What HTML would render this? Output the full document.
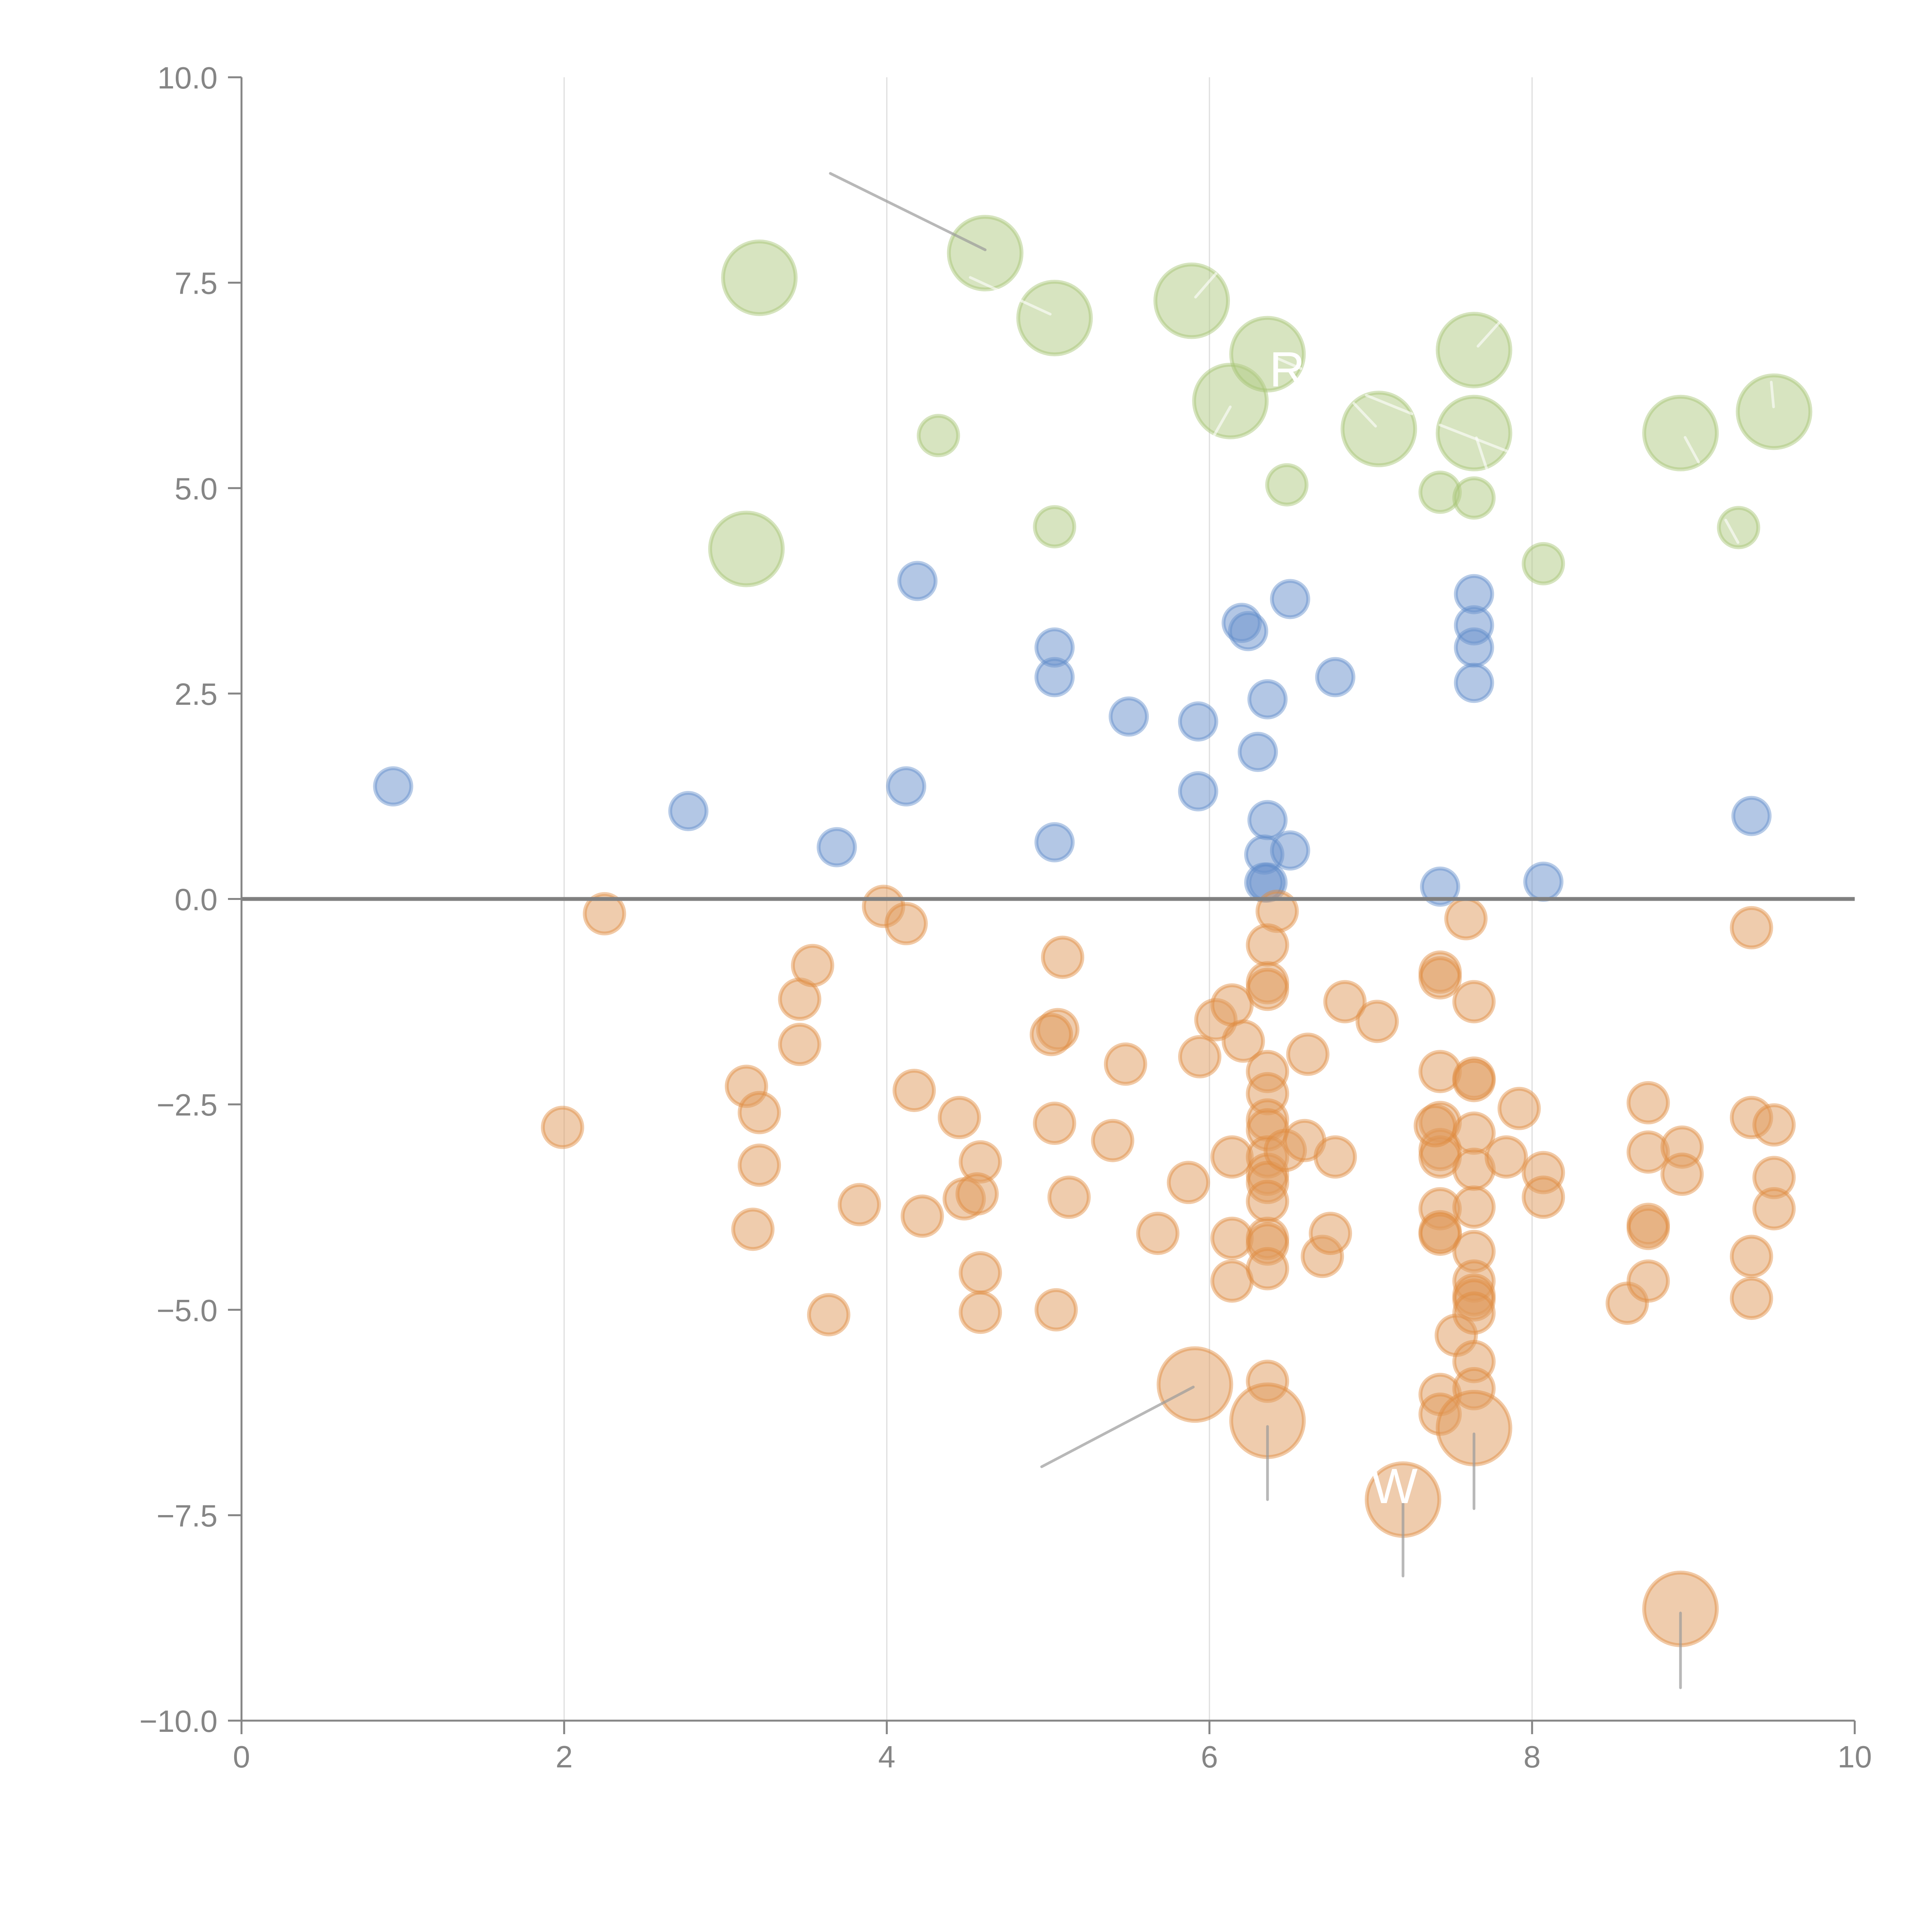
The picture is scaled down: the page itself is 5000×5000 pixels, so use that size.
<!DOCTYPE html>
<html><head><meta charset="utf-8">
<style>
html,body{margin:0;padding:0;background:#fff;}
svg{display:block;font-family:"Liberation Sans",Arial,sans-serif;}
</style></head>
<body>
<svg id="chart" width="5000" height="5000" viewBox="0 0 5000 5000" xmlns="http://www.w3.org/2000/svg">
<rect width="5000" height="5000" fill="#fff"/>
<g id="grid"></g>
<g id="marks"></g>
<g id="annot"></g>
<g id="axes"></g>
</svg>
<script>
const xTicks=[0,2,4,6,8,10];
const yTicks=[10,7.5,5,2.5,0,-2.5,-5,-7.5,-10];
const yTickLabels=["10.0","7.5","5.0","2.5","0.0","\u22122.5","\u22125.0","\u22127.5","\u221210.0"];
const blueX=[0.94,2.77,3.69,4.12,4.19,5.04,5.04,5.04,5.50,5.93,5.93,6.20,6.24,6.30,6.36,6.36,6.34,6.50,6.36,6.34,6.50,6.78,7.43,7.64,7.64,7.64,7.64,8.07,9.36];
const blueY=[1.37,1.07,0.63,1.37,3.87,3.06,2.70,0.69,2.22,2.16,1.31,3.36,3.26,1.79,2.43,0.96,0.54,0.59,0.20,0.20,3.65,2.70,0.15,3.71,3.33,3.06,2.63,0.21,1.01];
const greenX=[3.21,3.13,4.32,4.61,5.04,5.04,5.89,6.13,6.36,6.48,7.05,7.43,7.64,7.64,7.64,8.07,8.92,9.28,9.50];
const greenY=[7.56,4.26,5.64,7.86,7.07,4.53,7.28,6.06,6.63,5.04,5.72,4.95,6.68,5.67,4.88,4.08,5.67,4.52,5.93];
const greenBig=[1,1,0,1,1,0,1,1,1,0,1,0,1,1,0,0,1,0,1];
const orangeX=[
2.25,1.99,3.13,3.21,3.21,3.17,3.46,3.46,3.54,3.64,
3.83,3.98,4.12,4.17,4.22,4.45,4.48,4.58,4.56,4.58,
4.58,5.09,5.06,5.02,5.04,5.13,5.05,5.40,5.48,5.68,
5.87,5.94,6.04,6.14,6.21,6.14,6.14,6.14,6.42,6.36,
6.36,6.36,6.36,6.36,6.36,6.36,6.36,6.36,6.36,6.36,
6.36,6.36,6.36,6.36,
6.47,6.59,6.61,6.70,6.75,6.78,6.84,7.04,
7.43,7.43,7.43,7.43,7.43,7.43,7.43,7.43,7.43,7.43,7.43,7.40,
7.53,7.59,
7.64,7.64,7.64,7.64,7.64,7.64,7.64,7.64,7.64,7.64,7.64,7.64,7.64,
7.84,7.92,8.07,8.07,8.59,
8.72,8.72,8.72,8.72,8.72,
8.93,8.93,
9.36,9.36,9.36,9.36,
9.50,9.50,9.50];
const orangeY=[
-0.18,-2.78,-2.28,-2.60,-3.24,-4.02,-1.22,-1.77,-0.81,-5.06,
-3.72,-0.09,-0.30,-2.33,-3.86,-2.66,-3.65,-3.20,-3.59,-4.55,
-5.03,-0.71,-1.59,-1.65,-2.73,-3.63,-5.00,-2.94,-2.01,-4.07,
-3.45,-1.92,-1.47,-1.29,-1.73,-3.14,-4.13,-4.65,-0.15,-0.56,
-1.02,-1.10,-2.10,-2.37,-2.69,-2.81,-3.14,-3.35,-3.45,-3.68,
-4.13,-4.20,-4.50,-5.87,
-3.06,-2.94,-1.89,-4.35,-4.07,-3.14,-1.25,-1.49,
-0.89,-0.96,-2.10,-2.72,-3.05,-3.14,-3.77,-4.05,-4.08,-6.03,-6.27,-2.76,
-5.31,-0.24,
-1.25,-2.18,-2.21,-2.85,-3.29,-3.75,-4.29,-4.65,-4.82,-4.88,-5.04,-5.63,-5.96,
-3.14,-2.55,-3.33,-3.63,-4.92,
-2.48,-3.08,-3.96,-4.01,-4.65,
-3.02,-3.35,
-0.35,-2.66,-4.35,-4.86,
-2.75,-3.39,-3.77];
const orangeBigX=[5.91,6.36,7.20,7.64,8.92];
const orangeBigY=[-5.91,-6.35,-7.31,-6.44,-8.64];

const X0=625,X1=4800,Y0=200,Y1=4453;
function sx(v){return X0+(v-0)/(10-0)*(X1-X0);}
function sy(v){return Y0+(10-v)/20*(Y1-Y0);}
const NS="http://www.w3.org/2000/svg";
function mk(tag,attrs,parent){const e=document.createElementNS(NS,tag);for(const k in attrs)e.setAttribute(k,attrs[k]);parent.appendChild(e);return e;}
const grid=document.getElementById('grid'),marks=document.getElementById('marks'),annot=document.getElementById('annot'),axes=document.getElementById('axes');

xTicks.forEach(function(t){
  if(t===0||t===10)return;
  const l=mk('line',{x1:sx(t),x2:sx(t),y1:Y0,y2:Y1,stroke:'#dedede','stroke-width':3},grid);
  
  
});

function drawSeries(xs,ys,big,fill,stroke,name,rs,rb){
  xs.forEach(function(x,i){
    const c=mk('circle',{cx:sx(x),cy:sy(ys[i]),r:(big&&big[i])?rb:rs,fill:fill,'fill-opacity':0.5,stroke:stroke,'stroke-opacity':0.45,'stroke-width':10},marks);
    
    
  });
}
drawSeries(greenX,greenY,greenBig,'#afca82','#a5c472','green',51,94);
drawSeries(blueX,blueY,null,'#6890cb','#5f8bc9','blue',47,47);
drawSeries(orangeX,orangeY,null,'#e09a5c','#e08a3c','orange',51,51);
drawSeries(orangeBigX,orangeBigY,[1,1,1,1,1],'#e09a5c','#e08a3c','orange-large',51,94);

const leadFrom=[[3.65,8.83],[4.96,-6.91],[6.36,-6.42],[7.20,-7.36],[7.64,-6.51],[8.92,-8.69]];
const leadTo=[[4.61,7.90],[5.90,-5.94],[6.36,-7.31],[7.20,-8.24],[7.64,-7.42],[8.92,-9.60]];
leadFrom.forEach(function(p,i){
  const l=mk('line',{x1:sx(p[0]),y1:sy(p[1]),x2:sx(leadTo[i][0]),y2:sy(leadTo[i][1]),stroke:'#9a9a9a','stroke-opacity':0.7,'stroke-width':7,'stroke-linecap':'round'},annot);
  
  
});
const wl=[[3094,769,3147,708],[3300,925,3367,954],[3184,1053,3143,1125],[3560,1103,3504,1044],[3536,1023,3654,1071],[3825,896,3880,835],[3727,1100,3899,1167],[3821,1133,3847,1212],[4361,1132,4396,1196],[4584,989,4590,1053],[4466,1346,4498,1404],[2511,718,2718,813]];
wl.forEach(function(a){
  const l=mk('line',{x1:a[0],y1:a[1],x2:a[2],y2:a[3],stroke:'#fff','stroke-opacity':0.6,'stroke-width':7,'stroke-linecap':'round'},annot);
  
  
});
const t1=mk('text',{x:3285,y:1000,fill:'#fff','font-size':128},annot);t1.textContent='R';


const t2=mk('text',{x:3548,y:3890,fill:'#fff','font-size':128},annot);t2.textContent='W';



const z=mk('line',{x1:X0,x2:X1,y1:sy(0),y2:sy(0),stroke:'#808080','stroke-width':10},axes);


const ya=mk('line',{x1:X0,x2:X0,y1:Y0,y2:Y1,stroke:'#858585','stroke-width':5},axes);


const xa=mk('line',{x1:X0,x2:X1,y1:Y1,y2:Y1,stroke:'#858585','stroke-width':5},axes);


yTicks.forEach(function(t,i){
  const tk=mk('line',{x1:X0-35,x2:X0,y1:sy(t),y2:sy(t),stroke:'#858585','stroke-width':5},axes);
  
  
  const tx=mk('text',{x:X0-62,y:sy(t)+29,'text-anchor':'end','font-size':80,fill:'#858585'},axes);
  tx.textContent=yTickLabels[i];
  
  
});
xTicks.forEach(function(t){
  const tk=mk('line',{x1:sx(t),x2:sx(t),y1:Y1,y2:Y1+35,stroke:'#858585','stroke-width':5},axes);
  
  
  const tx=mk('text',{x:sx(t),y:Y1+121,'text-anchor':'middle','font-size':80,fill:'#858585'},axes);
  tx.textContent=String(t);
  
  
});
</script>
</body></html>
